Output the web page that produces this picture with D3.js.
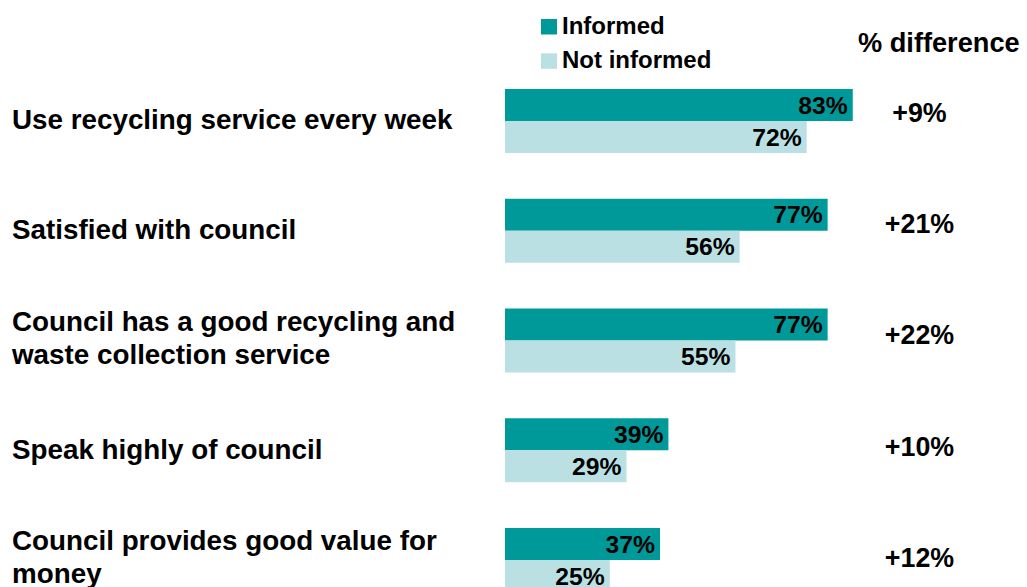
<!DOCTYPE html>
<html>
<head>
<meta charset="utf-8">
<script src="https://cdn.jsdelivr.net/npm/d3@7"></script>
<style>
  body { margin: 0; background: #fff; }
  svg { display: block; font-family: "Liberation Sans", Arial, sans-serif; font-weight: bold; }
</style>
</head>
<body>
<div id="wrapper"></div>
<script>
// data
const categories = [
  ["Use recycling service every week"],
  ["Satisfied with council"],
  ["Council has a good recycling and", "waste collection service"],
  ["Speak highly of council"],
  ["Council provides good value for", "money"],
]
const informed = [83, 77, 77, 39, 37]
const notInformed = [72, 56, 55, 29, 25]
const differences = ["+9%", "+21%", "+22%", "+10%", "+12%"]
const seriesNames = ["Informed", "Not informed"]
const colors = ["#009999", "#bbe0e3"]

function drawChart() {
  const dimensions = {
    width: 1027,
    height: 587,
  }

  const wrapper = d3.select("#wrapper")
    .append("svg")
      .attr("width", dimensions.width)
      .attr("height", dimensions.height)

  const keys = d3.range(categories.length)

  // group bands: 64px tall with ~110px step
  const yScale = d3.scaleBand()
    .domain(keys)
    .range([89, 592])
    .paddingInner(0.417)
    .paddingOuter(0)

  const ySub = d3.scaleBand()
    .domain([0, 1])
    .range([0, yScale.bandwidth()])

  const xScale = d3.scaleLinear()
    .domain([0, 100])
    .range([505, 924])

  // the difference column sits on a slightly wider step
  const yDiff = d3.scalePoint()
    .domain(keys)
    .range([121.7, 567])

  const groups = wrapper.append("g")
    .selectAll("g")
    .data(keys)
    .join("g")
      .attr("transform", i => `translate(0, ${yScale(i)})`)

  const rows = groups.selectAll("g.bar")
    .data(i => [informed[i], notInformed[i]].map((v, s) => ({ v, s })))
    .join("g")
      .attr("class", "bar")

  rows.append("rect")
      .attr("x", xScale(0))
      .attr("y", d => ySub(d.s))
      .attr("width", d => xScale(d.v) - xScale(0))
      .attr("height", ySub.bandwidth())
      .attr("fill", d => colors[d.s])

  rows.append("text")
      .attr("x", d => xScale(d.v) - 5)
      .attr("y", d => ySub(d.s) + ySub.bandwidth() / 2 + 8.7)
      .attr("text-anchor", "end")
      .attr("font-size", 24.7)
      .attr("fill", "#000")
      .text(d => d.v + "%")

  // category labels on the left
  const labels = groups.append("text")
      .attr("font-size", 27.8)
      .attr("fill", "#000")
  labels.selectAll("tspan")
    .data(i => categories[i].map((line, j) => ({ line, j, n: categories[i].length })))
    .join("tspan")
      .attr("x", 12)
      .attr("y", d => yScale.bandwidth() / 2 + 8.5 - (d.n - 1) * 18.5 + d.j * 33.5)
      .text(d => d.line)

  // % difference column
  wrapper.append("text")
      .attr("x", 858)
      .attr("y", 51.7)
      .attr("font-size", 27.2)
      .text("% difference")

  wrapper.append("g")
    .selectAll("text")
    .data(keys)
    .join("text")
      .attr("x", 919.5)
      .attr("y", i => yDiff(i))
      .attr("text-anchor", "middle")
      .attr("font-size", 26.8)
      .text(i => differences[i])

  // legend
  const legend = wrapper.append("g")
    .selectAll("g")
    .data(seriesNames)
    .join("g")
      .attr("transform", (d, i) => `translate(541, ${19 + i * 34.3})`)
  legend.append("rect")
      .attr("width", 16)
      .attr("height", 15.5)
      .attr("fill", (d, i) => colors[i])
  legend.append("text")
      .attr("x", 21)
      .attr("y", 14.5)
      .attr("font-size", 24)
      .text(d => d)
}

drawChart()
</script>
</body>
</html>
